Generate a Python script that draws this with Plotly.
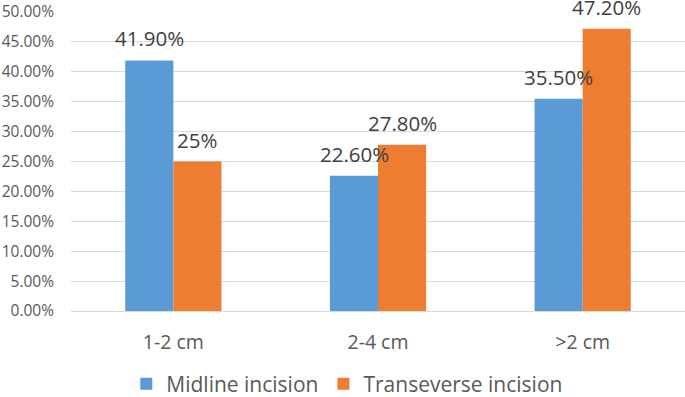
import plotly.graph_objects as go

categories = ["1-2 cm", "2-4 cm", ">2 cm"]
midline = [0.419, 0.226, 0.355]
transverse = [0.25, 0.278, 0.472]
midline_labels = ["41.90%", "22.60%", "35.50%"]
transverse_labels = ["25%", "27.80%", "47.20%"]

FONT = "Open Sans"
GRAY = "#595959"

fig = go.Figure()
fig.add_trace(go.Bar(name="Midline incision", x=categories, y=midline,
                     marker=dict(color="#5B9BD5", line=dict(width=0))))
fig.add_trace(go.Bar(name="Transeverse incision", x=categories, y=transverse,
                     marker=dict(color="#ED7D31", line=dict(width=0))))

for cat, v, t in zip(categories, midline, midline_labels):
    fig.add_annotation(x=cat, y=v, text=t, showarrow=False, xshift=-24, yshift=6,
                       yanchor="bottom", font=dict(size=20.5, color="#404040", family=FONT))
for cat, v, t in zip(categories, transverse, transverse_labels):
    fig.add_annotation(x=cat, y=v, text=t, showarrow=False, xshift=24, yshift=6,
                       yanchor="bottom", font=dict(size=20.5, color="#404040", family=FONT))

fig.update_layout(
    width=685, height=397,
    margin=dict(l=71, r=0, t=12, b=86, autoexpand=False),
    barmode="group", bargap=0.53, bargroupgap=0,
    plot_bgcolor="white", paper_bgcolor="white",
    font=dict(family=FONT, color=GRAY),
    showlegend=True,
    legend=dict(orientation="h", x=0.45, xanchor="center", y=-0.176, yanchor="top",
                font=dict(size=21, color=GRAY, family=FONT), itemwidth=30,
                bgcolor="rgba(0,0,0,0)"),
    xaxis=dict(showline=True, linecolor="#D9D9D9", linewidth=1, ticks="",
               tickfont=dict(size=19.5, color=GRAY), ticklabelstandoff=14,
               automargin=False),
    yaxis=dict(range=[0, 0.5], dtick=0.05, tickformat=".2%", showgrid=True,
               gridcolor="#D9D9D9", gridwidth=1, zeroline=False,
               tickfont=dict(size=15.5, color=GRAY), ticklabelstandoff=16,
               automargin=False),
)

fig.write_html("out.html", config={"displayModeBar": False},
               post_script="document.body.style.margin='0';")
